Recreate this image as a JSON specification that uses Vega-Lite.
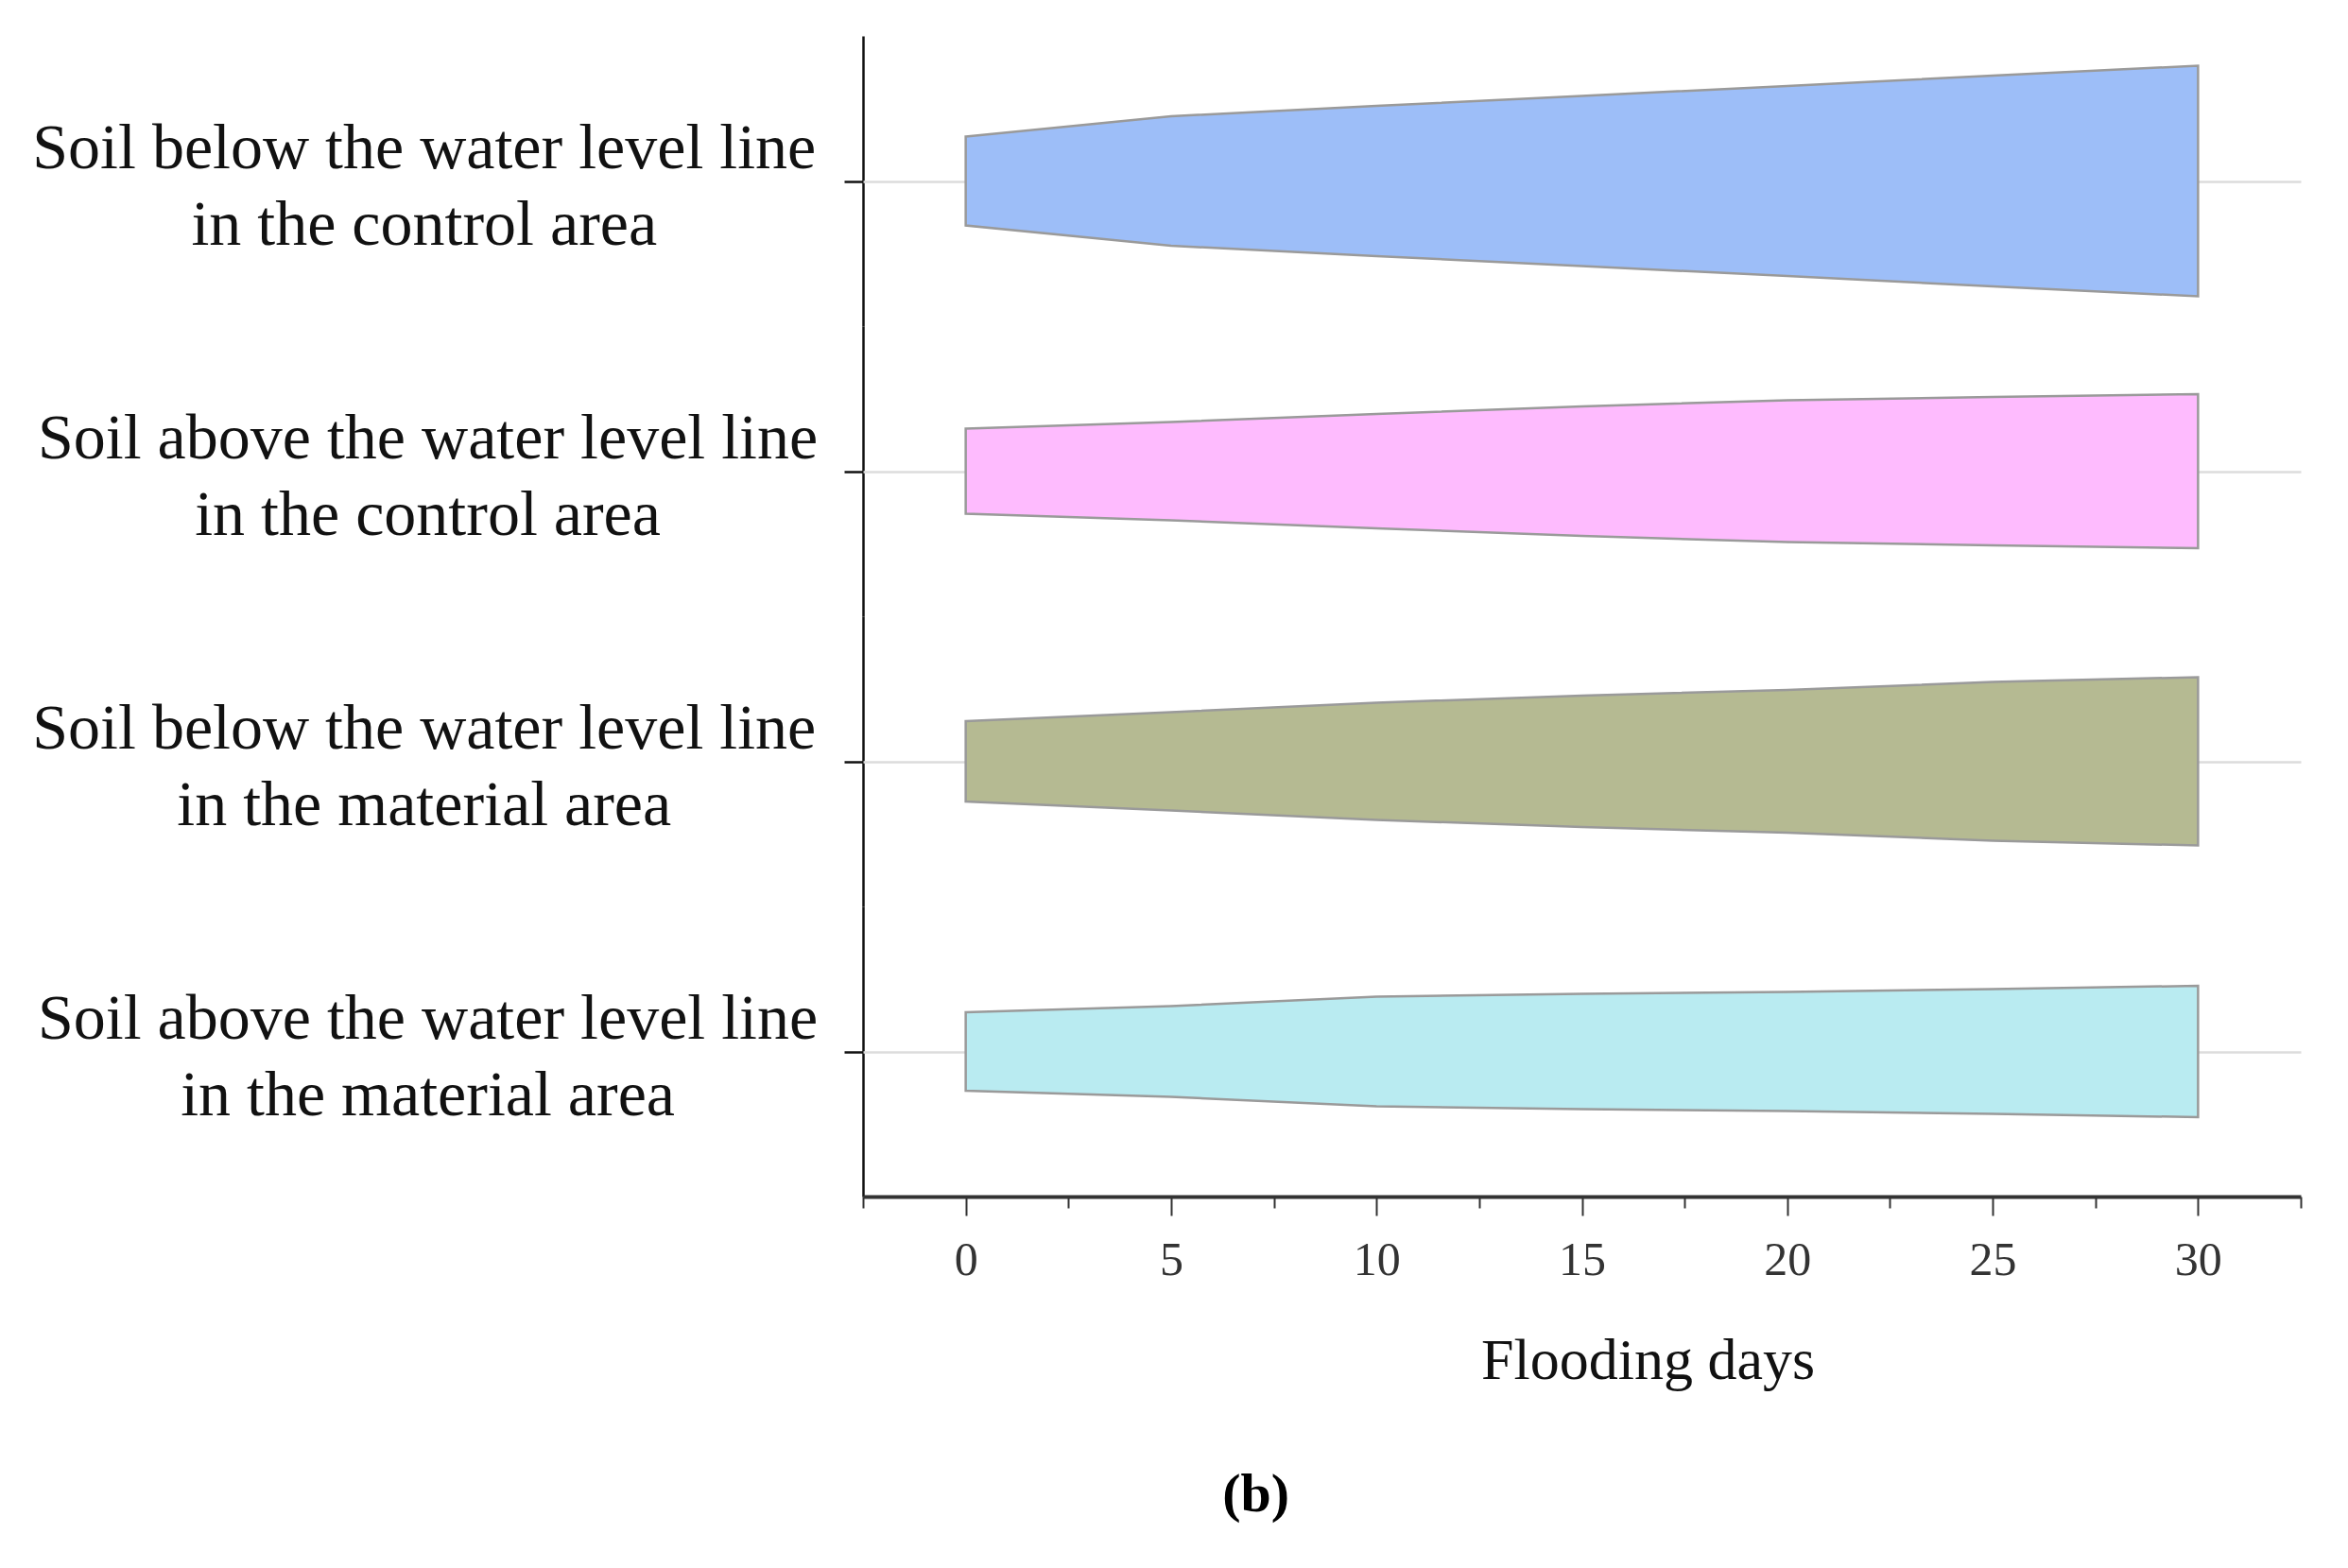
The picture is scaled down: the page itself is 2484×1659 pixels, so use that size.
{
  "$schema": "https://vega.github.io/schema/vega-lite/v6.json",
  "padding": {"left": 34, "top": 38, "right": 5, "bottom": 5},
  "background": "white",
  "data": {"values": [
    {"cat": "Soil below the water level line in the control area", "day": 0, "value": 9.4},
    {"cat": "Soil below the water level line in the control area", "day": 5, "value": 13.7},
    {"cat": "Soil below the water level line in the control area", "day": 10, "value": 15.9},
    {"cat": "Soil below the water level line in the control area", "day": 15, "value": 18.0},
    {"cat": "Soil below the water level line in the control area", "day": 20, "value": 20.1},
    {"cat": "Soil below the water level line in the control area", "day": 25, "value": 22.3},
    {"cat": "Soil below the water level line in the control area", "day": 30, "value": 24.4},
    {"cat": "Soil above the water level line in the control area", "day": 0, "value": 9.0},
    {"cat": "Soil above the water level line in the control area", "day": 5, "value": 10.4},
    {"cat": "Soil above the water level line in the control area", "day": 10, "value": 12.1},
    {"cat": "Soil above the water level line in the control area", "day": 15, "value": 13.7},
    {"cat": "Soil above the water level line in the control area", "day": 20, "value": 15.0},
    {"cat": "Soil above the water level line in the control area", "day": 25, "value": 15.7},
    {"cat": "Soil above the water level line in the control area", "day": 30, "value": 16.3},
    {"cat": "Soil below the water level line in the material area", "day": 0, "value": 8.5},
    {"cat": "Soil below the water level line in the material area", "day": 5, "value": 10.4},
    {"cat": "Soil below the water level line in the material area", "day": 10, "value": 12.4},
    {"cat": "Soil below the water level line in the material area", "day": 15, "value": 13.9},
    {"cat": "Soil below the water level line in the material area", "day": 20, "value": 15.1},
    {"cat": "Soil below the water level line in the material area", "day": 25, "value": 16.8},
    {"cat": "Soil below the water level line in the material area", "day": 30, "value": 17.8},
    {"cat": "Soil above the water level line in the material area", "day": 0, "value": 8.3},
    {"cat": "Soil above the water level line in the material area", "day": 5, "value": 9.6},
    {"cat": "Soil above the water level line in the material area", "day": 10, "value": 11.6},
    {"cat": "Soil above the water level line in the material area", "day": 15, "value": 12.2},
    {"cat": "Soil above the water level line in the material area", "day": 20, "value": 12.6},
    {"cat": "Soil above the water level line in the material area", "day": 25, "value": 13.2},
    {"cat": "Soil above the water level line in the material area", "day": 30, "value": 13.9}
  ]},
  "title": {"text": "(b)", "orient": "bottom", "anchor": "middle", "font": "Liberation Serif", "fontSize": 58, "fontWeight": "bold", "color": "#000000", "offset": 83, "dx": 94},
  "facet": {
    "row": {
      "field": "cat", "type": "nominal", "title": null,
      "sort": [
        "Soil below the water level line in the control area",
        "Soil above the water level line in the control area",
        "Soil below the water level line in the material area",
        "Soil above the water level line in the material area"
      ],
      "header": {
        "labelOrient": "left", "labelAngle": 0, "labelAlign": "center", "labelAnchor": "middle",
        "labelBaseline": "bottom",
        "labelFont": "Liberation Serif", "labelFontSize": 68, "labelColor": "#111111",
        "labelLineHeight": 81, "labelPadding": -386,
        "labelExpr": "[substring(datum.value, 0, 31), substring(datum.value, 32)]"
      }
    }
  },
  "spacing": {"row": 0},
  "spec": {
    "width": 1521,
    "height": 307,
    "mark": {"type": "area", "stroke": "#9a9a9a", "strokeWidth": 2.5, "interpolate": "linear"},
    "encoding": {
      "x": {
        "field": "day", "type": "quantitative",
        "scale": {"domain": [-2.5, 32.5], "nice": false, "zero": false},
        "axis": {
          "values": [-2.5, 0, 2.5, 5, 7.5, 10, 12.5, 15, 17.5, 20, 22.5, 25, 27.5, 30, 32.5],
          "labelExpr": "datum.value % 5 === 0 ? format(datum.value, 'd') : ''",
          "tickSize": {"condition": {"test": "datum.value % 5 === 0", "value": 20}, "value": 12},
          "grid": false,
          "title": "Flooding days",
          "titleFont": "Liberation Serif", "titleFontSize": 62, "titleFontWeight": "normal", "titleColor": "#111111",
          "titlePadding": 51, "titleX": 830,
          "labelFont": "Liberation Serif", "labelFontSize": 50, "labelColor": "#333333", "labelPadding": 22,
          "domainColor": "#333333", "domainWidth": 4,
          "tickColor": "#333333", "tickWidth": 2
        }
      },
      "y": {
        "field": "value", "type": "quantitative", "stack": "center",
        "scale": {"domain": [-3.15, 27.55], "nice": false, "zero": false},
        "axis": {
          "values": [12.2], "labels": false, "title": null,
          "grid": true, "gridColor": "#dcdcdc", "gridWidth": 2.5,
          "domainColor": "#111111", "domainWidth": 2.5,
          "tickColor": "#111111", "tickWidth": 2.5, "tickSize": 20
        }
      },
      "color": {
        "field": "cat", "type": "nominal", "legend": null,
        "scale": {
          "domain": [
            "Soil below the water level line in the control area",
            "Soil above the water level line in the control area",
            "Soil below the water level line in the material area",
            "Soil above the water level line in the material area"
          ],
          "range": ["#9DBEF8", "#FEBBFE", "#B5BA92", "#B9EBF1"]
        }
      }
    }
  },
  "config": {"view": {"stroke": null}}
}
